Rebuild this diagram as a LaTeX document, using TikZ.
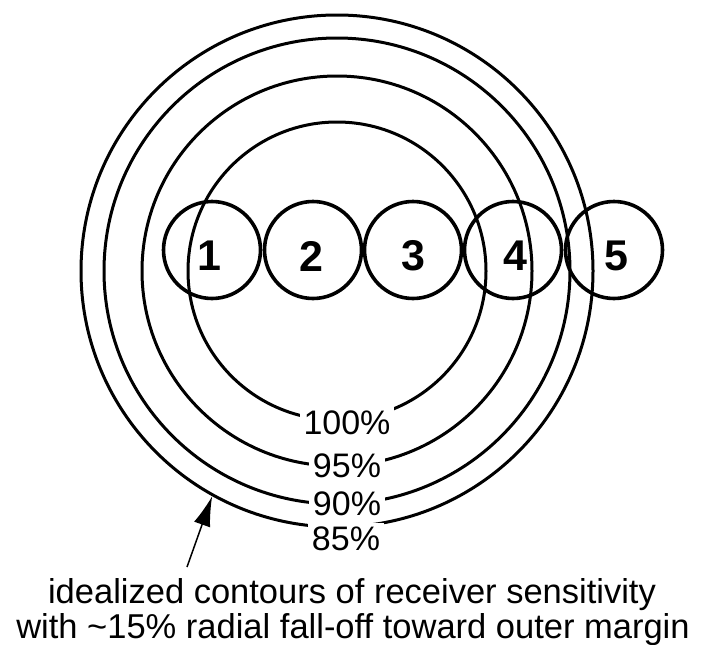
\documentclass[tikz,border=0pt]{standalone}
\usepackage{fontspec}
\setmainfont{Liberation Sans}
\usetikzlibrary{arrows.meta}
\tikzset{
  contour/.style={draw, circle, inner sep=0pt, line width=3pt, minimum size=#1},
  recv/.style={draw, circle, inner sep=0pt, line width=3.6pt, minimum size=97pt},
  digit/.style={font=\fontsize{43}{43}\selectfont\bfseries, inner sep=0pt},
  pct/.style={font=\fontsize{34}{34}\selectfont, fill=white, inner sep=3.5pt},
  captxt/.style={font=\fontsize{34.5}{35}\selectfont, inner sep=0pt, anchor=base},
  pointer/.style={line width=1.5pt, -{Latex[length=30pt,width=17pt]}}
}
\begin{document}
\begin{tikzpicture}[x=1pt,y=-1pt]
\useasboundingbox (0,0) rectangle (704,645);
% concentric contours
\node[contour=298pt] (c100) at (337,271) {};
\node[contour=390pt] (c95) at (337,271) {};
\node[contour=466pt] (c90) at (337,271) {};
\node[contour=512pt] (c85) at (337,271) {};
% receivers
\node[recv] (r1) at (212,250) {};
\node[recv] (r2) at (313,250) {};
\node[recv] (r3) at (413,250) {};
\node[recv] (r4) at (513,250) {};
\node[recv] (r5) at (614,250) {};
\node[digit] (d1) at (209,256) {1};
\node[digit] (d2) at (311,256) {2};
\node[digit] (d3) at (413,256) {3};
\node[digit] (d4) at (515,256) {4};
\node[digit] (d5) at (616,256) {5};
% percent labels
\node[pct] (p100) at (347,422.5) {100\%};
\node[pct] (p95) at (347,465.5) {95\%};
\node[pct] (p90) at (347,503.5) {90\%};
\node[pct] (p85) at (346,538.5) {85\%};
% caption
\node[captxt] (cap1) at (352,603) {idealized contours of receiver sensitivity};
\node[captxt] (cap2) at (353,638) {with \textasciitilde15\% radial fall-off toward outer margin};
% pointer
\coordinate (tail) at (187,567);
\draw[pointer] (tail) -- (c85.241);
\end{tikzpicture}
\end{document}
